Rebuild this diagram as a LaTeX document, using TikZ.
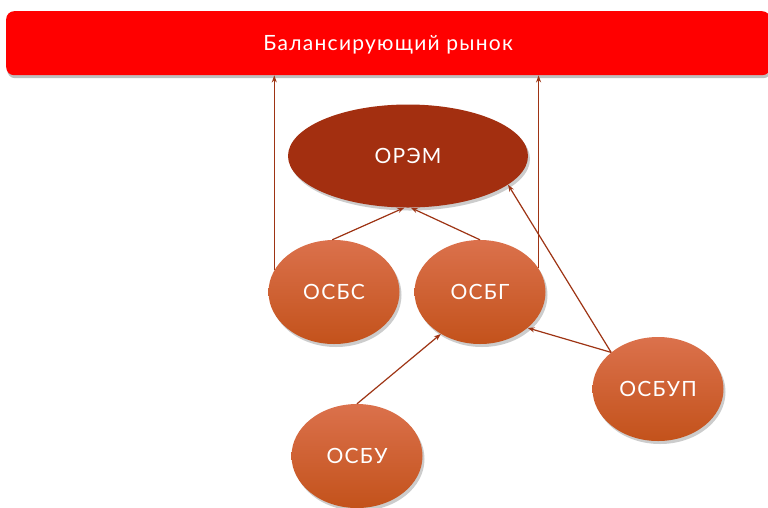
\documentclass[tikz,border=0pt]{standalone}
\usepackage{fontspec}
\setmainfont{Lato}[LetterSpace=6]
\usetikzlibrary{shapes.geometric,shadows,arrows.meta}
\definecolor{barred}{HTML}{FF0000}
\definecolor{oremc}{HTML}{A32F10}
\definecolor{osbtop}{HTML}{DB714C}
\definecolor{osbbot}{HTML}{C3521B}
\definecolor{arrc}{HTML}{9E3414}
\tikzset{
  lbl/.style={text=white, font=\fontsize{21pt}{24pt}\selectfont},
  osb/.style={ellipse, minimum width=131pt, minimum height=104pt, top color=osbtop, bottom color=osbbot,
    lbl, drop shadow={opacity=0.4, shadow xshift=2pt, shadow yshift=-3pt}},
  arr/.style={draw=arrc, line width=1.2pt, -{Stealth[length=7pt,width=5pt]}}
}
\begin{document}
\begin{tikzpicture}[x=1pt,y=-1pt]
\useasboundingbox (0,0) rectangle (768,507);
\fill[white] (0,0) rectangle (768,507);
\node[rectangle, rounded corners=8pt, fill=barred, minimum width=764pt, minimum height=64pt,
  lbl, anchor=north west, text depth=0pt,
  drop shadow={opacity=0.5, shadow xshift=1pt, shadow yshift=-3pt}] (bar) at (6,11) {Балансирующий рынок};
\node[ellipse, minimum width=240pt, minimum height=103pt, fill=oremc, lbl,
  drop shadow={opacity=0.4, shadow xshift=2pt, shadow yshift=-3pt}] (orem) at (408,156) {ОРЭМ};
\node[osb] (osbs) at (334,292) {ОСБС};
\node[osb] (osbg) at (480,292) {ОСБГ};
\node[osb] (osbu) at (357,456) {ОСБУ};
\node[osb] (osbup) at (658,389) {ОСБУП};
\draw[arr] (osbs.160) -- (osbs.160 |- bar.south);
\draw[arr] (osbg.22) -- (osbg.22 |- bar.south);
\draw[arr] (osbs.92) -- (orem.266);
\draw[arr] (osbg.north) -- (orem.273);
\draw[arr] (osbup.142) -- (orem.344);
\draw[arr] (osbup.142) -- (osbg.323);
\draw[arr] (osbu.north) -- (osbg.227);
\end{tikzpicture}
\end{document}
